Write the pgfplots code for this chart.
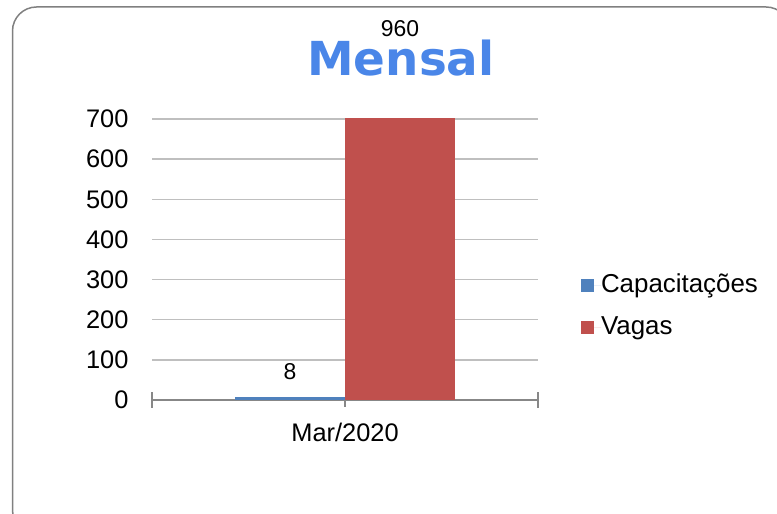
\documentclass[border=0pt]{standalone}
\usepackage{fontspec}
\setmainfont{Liberation Sans}
\newfontfamily\titlefont{DejaVu Sans}
\usepackage{pgfplots}
\pgfplotsset{compat=1.18}
\definecolor{capblue}{HTML}{4F81BD}
\definecolor{vagred}{HTML}{C0504D}
\definecolor{titleblue}{HTML}{4A86E8}
\definecolor{framegray}{HTML}{808080}
\definecolor{axisgray}{HTML}{878787}
\definecolor{gridgray}{HTML}{BFBFBF}
\begin{document}
\begin{tikzpicture}[x=1bp,y=1bp]
\useasboundingbox (0,0) rectangle (777,514);
\begin{scope}
\clip (0,0) rectangle (777,514);
\draw[framegray, line width=1.5bp, rounded corners=24bp] (12.5,-20) rectangle (790,507);
\end{scope}
\pgfplotsset{
  common/.style={
    at={(152bp,114bp)}, anchor=south west,
    width=386bp, height=281bp, scale only axis,
    xmin=-0.5, xmax=0.5, ymin=0, ymax=700,
    ybar=0pt, bar width=110bp,
    /pgf/number format/assume math mode=true,
  }
}
\begin{axis}[
  common,
  axis x line*=bottom, axis y line*=left,
  x axis line style={axisgray, line width=1.5bp, -},
  y axis line style={draw=none},
  ytick={0,100,200,300,400,500,600,700},
  ytick style={draw=none},
  ymajorgrids, major grid style={gridgray, line width=1.5bp},
  xtick={-0.5,0.5}, xticklabels={},
  xtick style={axisgray, line width=1.5bp},
  major tick length=16bp, tick align=center,
  extra x ticks={0}, extra x tick labels={Mar/2020},
  extra x tick style={tick align=outside, major tick length=7bp, xtick style={axisgray, line width=1.5bp}},
  tick label style={font=\fontsize{25.5}{30}\selectfont},
  yticklabel style={anchor=east, xshift=-12bp},
  xticklabel style={anchor=center, yshift=-25bp},
  legend style={draw=none, fill=none, inner sep=0pt, outer sep=0pt,
    at={(1.1114,0.331)}, anchor=west, row sep=19bp,
    font=\fontsize{26}{30}\selectfont,
    nodes={text height=18bp, text depth=5bp, inner sep=0pt}},
  legend cell align=left,
  legend image code/.code={\fill[#1] (0bp,-6.5bp) rectangle (13bp,6.5bp); \path (13bp,0bp) -- (20bp,0bp);},
]
\addplot[fill=capblue, draw=none] coordinates {(0,8)};
\addplot[fill=vagred, draw=none] coordinates {(0,960)};
\legend{Capacitações, Vagas}
\end{axis}
\begin{axis}[
  common, hide axis, clip=false,
]
\addplot[draw=none, fill=none, nodes near coords,
  every node near coord/.append style={anchor=center, yshift=25bp, text=black, font=\fontsize{23}{26}\selectfont}]
  coordinates {(0,8)};
\addplot[draw=none, fill=none, nodes near coords,
  every node near coord/.append style={anchor=center, yshift=-14bp, text=black, font=\fontsize{23}{26}\selectfont}]
  coordinates {(0,960)};
\end{axis}
\node[anchor=base, text=titleblue, inner sep=0pt] at (401,438) {\titlefont\bfseries\fontsize{47}{50}\selectfont Mensal};
\end{tikzpicture}
\end{document}
